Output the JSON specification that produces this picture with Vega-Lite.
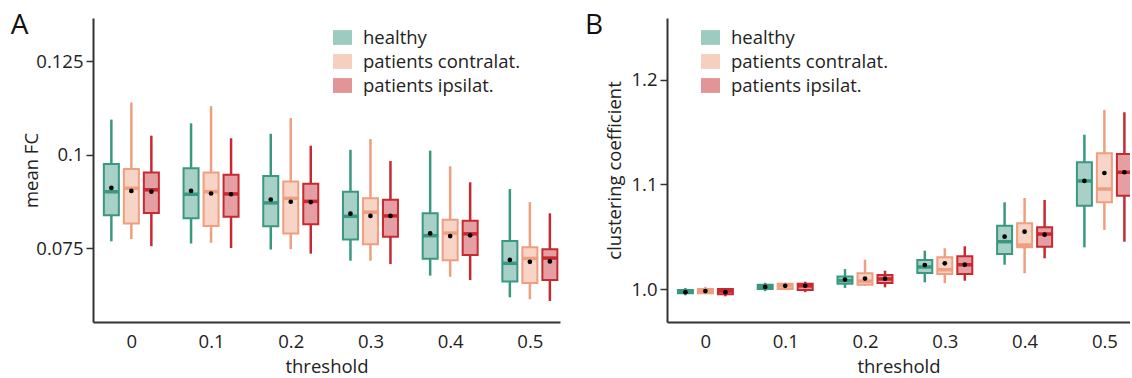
{
  "$schema": "https://vega.github.io/schema/vega-lite/v6.json",
  "padding": {"top": 12, "left": 10, "right": 0, "bottom": 2},
  "datasets": {
    "a": [
      {"threshold": 0, "group": "healthy", "lo": 0.0768, "q1": 0.0838, "med": 0.0901, "q3": 0.0975, "hi": 0.1094, "mean": 0.0911},
      {"threshold": 0, "group": "patients contralat.", "lo": 0.0774, "q1": 0.0816, "med": 0.0910, "q3": 0.0962, "hi": 0.1140, "mean": 0.0903},
      {"threshold": 0, "group": "patients ipsilat.", "lo": 0.0755, "q1": 0.0844, "med": 0.0906, "q3": 0.0952, "hi": 0.1051, "mean": 0.0901},
      {"threshold": 0.1, "group": "healthy", "lo": 0.0762, "q1": 0.0830, "med": 0.0894, "q3": 0.0964, "hi": 0.1084, "mean": 0.0903},
      {"threshold": 0.1, "group": "patients contralat.", "lo": 0.0764, "q1": 0.0809, "med": 0.0901, "q3": 0.0952, "hi": 0.1130, "mean": 0.0896},
      {"threshold": 0.1, "group": "patients ipsilat.", "lo": 0.0750, "q1": 0.0834, "med": 0.0895, "q3": 0.0946, "hi": 0.1044, "mean": 0.0894},
      {"threshold": 0.2, "group": "healthy", "lo": 0.0746, "q1": 0.0808, "med": 0.0871, "q3": 0.0943, "hi": 0.1056, "mean": 0.0880},
      {"threshold": 0.2, "group": "patients contralat.", "lo": 0.0747, "q1": 0.0789, "med": 0.0883, "q3": 0.0928, "hi": 0.1098, "mean": 0.0874},
      {"threshold": 0.2, "group": "patients ipsilat.", "lo": 0.0735, "q1": 0.0814, "med": 0.0875, "q3": 0.0922, "hi": 0.1024, "mean": 0.0873},
      {"threshold": 0.3, "group": "healthy", "lo": 0.0716, "q1": 0.0773, "med": 0.0835, "q3": 0.0901, "hi": 0.1013, "mean": 0.0842},
      {"threshold": 0.3, "group": "patients contralat.", "lo": 0.0716, "q1": 0.0760, "med": 0.0846, "q3": 0.0883, "hi": 0.1042, "mean": 0.0836},
      {"threshold": 0.3, "group": "patients ipsilat.", "lo": 0.0707, "q1": 0.0780, "med": 0.0836, "q3": 0.0879, "hi": 0.0983, "mean": 0.0836},
      {"threshold": 0.4, "group": "healthy", "lo": 0.0676, "q1": 0.0721, "med": 0.0783, "q3": 0.0843, "hi": 0.1011, "mean": 0.0789},
      {"threshold": 0.4, "group": "patients contralat.", "lo": 0.0673, "q1": 0.0717, "med": 0.0790, "q3": 0.0826, "hi": 0.0969, "mean": 0.0782},
      {"threshold": 0.4, "group": "patients ipsilat.", "lo": 0.0664, "q1": 0.0731, "med": 0.0788, "q3": 0.0823, "hi": 0.0926, "mean": 0.0784},
      {"threshold": 0.5, "group": "healthy", "lo": 0.0618, "q1": 0.0660, "med": 0.0709, "q3": 0.0769, "hi": 0.0908, "mean": 0.0718},
      {"threshold": 0.5, "group": "patients contralat.", "lo": 0.0613, "q1": 0.0656, "med": 0.0722, "q3": 0.0752, "hi": 0.0873, "mean": 0.0713},
      {"threshold": 0.5, "group": "patients ipsilat.", "lo": 0.0608, "q1": 0.0664, "med": 0.0723, "q3": 0.0747, "hi": 0.0843, "mean": 0.0714}
    ],
    "b": [
      {"threshold": 0, "group": "healthy", "lo": 0.994, "q1": 0.996, "med": 0.997, "q3": 0.999, "hi": 1.001, "mean": 0.997},
      {"threshold": 0, "group": "patients contralat.", "lo": 0.995, "q1": 0.996, "med": 0.998, "q3": 1.000, "hi": 1.002, "mean": 0.998},
      {"threshold": 0, "group": "patients ipsilat.", "lo": 0.993, "q1": 0.995, "med": 0.998, "q3": 1.000, "hi": 1.001, "mean": 0.997},
      {"threshold": 0.1, "group": "healthy", "lo": 0.998, "q1": 1.000, "med": 1.002, "q3": 1.004, "hi": 1.006, "mean": 1.002},
      {"threshold": 0.1, "group": "patients contralat.", "lo": 0.999, "q1": 1.000, "med": 1.003, "q3": 1.005, "hi": 1.006, "mean": 1.003},
      {"threshold": 0.1, "group": "patients ipsilat.", "lo": 0.997, "q1": 0.999, "med": 1.003, "q3": 1.005, "hi": 1.007, "mean": 1.003},
      {"threshold": 0.2, "group": "healthy", "lo": 1.001, "q1": 1.005, "med": 1.008, "q3": 1.012, "hi": 1.019, "mean": 1.009},
      {"threshold": 0.2, "group": "patients contralat.", "lo": 1.003, "q1": 1.004, "med": 1.0075, "q3": 1.015, "hi": 1.028, "mean": 1.010},
      {"threshold": 0.2, "group": "patients ipsilat.", "lo": 1.0016, "q1": 1.0057, "med": 1.0096, "q3": 1.0134, "hi": 1.0175, "mean": 1.0099},
      {"threshold": 0.3, "group": "healthy", "lo": 1.0064, "q1": 1.0153, "med": 1.021, "q3": 1.0277, "hi": 1.0366, "mean": 1.0229},
      {"threshold": 0.3, "group": "patients contralat.", "lo": 1.0057, "q1": 1.0143, "med": 1.0184, "q3": 1.0303, "hi": 1.0389, "mean": 1.0245},
      {"threshold": 0.3, "group": "patients ipsilat.", "lo": 1.0079, "q1": 1.0143, "med": 1.0232, "q3": 1.0312, "hi": 1.0408, "mean": 1.0232},
      {"threshold": 0.4, "group": "healthy", "lo": 1.0232, "q1": 1.0334, "med": 1.0452, "q3": 1.0605, "hi": 1.0828, "mean": 1.0500},
      {"threshold": 0.4, "group": "patients contralat.", "lo": 1.0150, "q1": 1.0398, "med": 1.0420, "q3": 1.0627, "hi": 1.0869, "mean": 1.0548},
      {"threshold": 0.4, "group": "patients ipsilat.", "lo": 1.0293, "q1": 1.0404, "med": 1.0525, "q3": 1.0589, "hi": 1.0850, "mean": 1.0519},
      {"threshold": 0.5, "group": "healthy", "lo": 1.0398, "q1": 1.0796, "med": 1.1032, "q3": 1.1210, "hi": 1.1474, "mean": 1.1032},
      {"threshold": 0.5, "group": "patients contralat.", "lo": 1.0564, "q1": 1.0828, "med": 1.0955, "q3": 1.1296, "hi": 1.1710, "mean": 1.1108},
      {"threshold": 0.5, "group": "patients ipsilat.", "lo": 1.0452, "q1": 1.0891, "med": 1.1115, "q3": 1.1289, "hi": 1.1688, "mean": 1.1115}
    ]
  },
  "hconcat": [
    {
      "width": 467,
      "height": 304,
      "data": {"name": "a"},
      "title": {"text": "A", "anchor": "start", "frame": "bounds", "fontSize": 28, "fontWeight": "normal", "dx": -12, "offset": -22, "color": "#111"},
      "encoding": {
        "x": {"field": "threshold", "type": "ordinal", "title": "threshold",
              "scale": {"type": "point", "padding": 0.4297, "align": 0.56},
              "axis": {"labelAngle": 0, "ticks": false, "labelPadding": 10, "titlePadding": 7}},
        "xOffset": {"field": "group", "type": "nominal",
                    "scale": {"type": "point", "padding": 0, "domain": ["healthy", "patients contralat.", "patients ipsilat."], "range": [-20, 20]}}
      },
      "layer": [
        {"mark": {"type": "rule", "strokeWidth": 2.5},
         "encoding": {"y": {"field": "lo", "type": "quantitative", "title": "mean FC",
                            "scale": {"domain": [0.05518, 0.13662], "nice": false, "zero": false},
                            "axis": {"values": [0.075, 0.1, 0.125], "labelExpr": "format(datum.value, '~g')", "titlePadding": -6, "labelPadding": 3}},
                      "y2": {"field": "q1"},
                      "color": {"field": "group", "type": "nominal",
                                "scale": {"domain": ["healthy", "patients contralat.", "patients ipsilat."], "range": ["#3B9880", "#EE9F80", "#C62A30"]},
                                "legend": {"orient": "none", "legendX": 240, "legendY": 10, "title": null}}}},
        {"mark": {"type": "rule", "strokeWidth": 2.5},
         "encoding": {"y": {"field": "q3", "type": "quantitative", "title": "mean FC"},
                      "y2": {"field": "hi"},
                      "color": {"field": "group", "type": "nominal"}}},
        {"mark": {"type": "bar", "size": 15, "fillOpacity": 0.45, "strokeWidth": 2},
         "encoding": {"y": {"field": "q1", "type": "quantitative", "title": "mean FC"},
                      "y2": {"field": "q3"},
                      "color": {"field": "group", "type": "nominal"},
                      "stroke": {"field": "group", "type": "nominal", "legend": null,
                                 "scale": {"domain": ["healthy", "patients contralat.", "patients ipsilat."], "range": ["#3B9880", "#EE9F80", "#C62A30"]}}}},
        {"mark": {"type": "tick", "thickness": 3.5, "size": 15, "orient": "horizontal", "opacity": 1},
         "encoding": {"y": {"field": "med", "type": "quantitative", "title": "mean FC"},
                      "color": {"field": "group", "type": "nominal"}}},
        {"mark": {"type": "point", "filled": true, "color": "#000", "size": 22, "opacity": 1},
         "encoding": {"y": {"field": "mean", "type": "quantitative", "title": "mean FC"}}}
      ]
    },
    {
      "width": 463,
      "height": 304,
      "data": {"name": "b"},
      "title": {"text": "B", "anchor": "start", "frame": "bounds", "fontSize": 28, "fontWeight": "normal", "dx": -21, "offset": -22, "color": "#111"},
      "encoding": {
        "x": {"field": "threshold", "type": "ordinal", "title": "threshold",
              "scale": {"type": "point", "padding": 0.401, "align": 0.6},
              "axis": {"labelAngle": 0, "ticks": false, "labelPadding": 10, "titlePadding": 7}},
        "xOffset": {"field": "group", "type": "nominal",
                    "scale": {"type": "point", "padding": 0, "domain": ["healthy", "patients contralat.", "patients ipsilat."], "range": [-20, 20]}}
      },
      "layer": [
        {"mark": {"type": "rule", "strokeWidth": 2.5, "clip": true},
         "encoding": {"y": {"field": "lo", "type": "quantitative", "title": "clustering coefficient",
                            "scale": {"domain": [0.9685, 1.2588], "nice": false, "zero": false},
                            "axis": {"values": [1.0, 1.1, 1.2], "labelExpr": "format(datum.value, '.1f')", "titlePadding": 6, "labelPadding": 3}},
                      "y2": {"field": "q1"},
                      "color": {"field": "group", "type": "nominal",
                                "scale": {"domain": ["healthy", "patients contralat.", "patients ipsilat."], "range": ["#3B9880", "#EE9F80", "#C62A30"]},
                                "legend": {"orient": "none", "legendX": 34, "legendY": 10, "title": null}}}},
        {"mark": {"type": "rule", "strokeWidth": 2.5, "clip": true},
         "encoding": {"y": {"field": "q3", "type": "quantitative", "title": "clustering coefficient"},
                      "y2": {"field": "hi"},
                      "color": {"field": "group", "type": "nominal"}}},
        {"mark": {"type": "bar", "size": 15, "fillOpacity": 0.45, "strokeWidth": 2, "clip": true},
         "encoding": {"y": {"field": "q1", "type": "quantitative", "title": "clustering coefficient"},
                      "y2": {"field": "q3"},
                      "color": {"field": "group", "type": "nominal"},
                      "stroke": {"field": "group", "type": "nominal", "legend": null,
                                 "scale": {"domain": ["healthy", "patients contralat.", "patients ipsilat."], "range": ["#3B9880", "#EE9F80", "#C62A30"]}}}},
        {"mark": {"type": "tick", "thickness": 3.5, "size": 15, "orient": "horizontal", "opacity": 1, "clip": true},
         "encoding": {"y": {"field": "med", "type": "quantitative", "title": "clustering coefficient"},
                      "color": {"field": "group", "type": "nominal"}}},
        {"mark": {"type": "point", "filled": true, "color": "#000", "size": 22, "opacity": 1, "clip": true},
         "encoding": {"y": {"field": "mean", "type": "quantitative", "title": "clustering coefficient"}}}
      ]
    }
  ],
  "spacing": 24,
  "resolve": {"legend": {"color": "independent"}, "scale": {"color": "independent", "stroke": "independent"}},
  "config": {
    "font": "Open Sans",
    "view": {"stroke": null},
    "axis": {"domainColor": "#333", "domainWidth": 2, "grid": false, "labelFontSize": 18.5, "titleFontSize": 18.5,
             "labelColor": "#222", "titleColor": "#222", "titleFontWeight": "normal", "tickColor": "#333",
             "tickWidth": 1.5, "tickSize": 7},
    "legend": {"labelFontSize": 18.5, "labelColor": "#222", "symbolType": "M-1,-0.78L1,-0.78L1,0.78L-1,0.78Z",
               "symbolSize": 361, "symbolOpacity": 0.5, "symbolStrokeWidth": 0, "rowPadding": 5, "labelOffset": 11,
               "labelLimit": 300}
  }
}
